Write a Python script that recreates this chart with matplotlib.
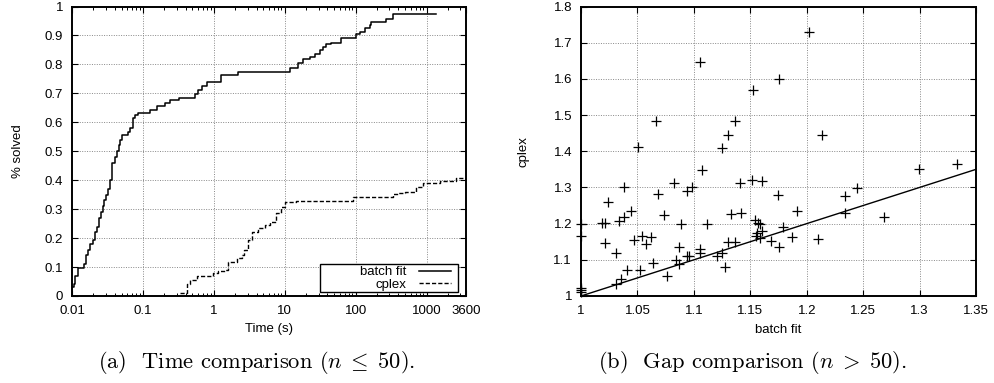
import matplotlib
matplotlib.use("Agg")
import matplotlib.pyplot as plt
from matplotlib.ticker import NullFormatter, LogLocator
from matplotlib.patches import Rectangle

plt.rcParams['font.family'] = ['Liberation Sans', 'DejaVu Sans']
plt.rcParams['mathtext.fontset'] = 'cm'

# ---- data: left panel (fraction solved vs time) ----
batch_t = [0.01, 0.0105, 0.0112, 0.0121, 0.0148, 0.0157, 0.0168, 0.0179, 0.0198, 0.0211,
           0.0225, 0.0240, 0.0256, 0.0273, 0.0287, 0.0301, 0.0321, 0.0343, 0.0362, 0.0403,
           0.0430, 0.0459, 0.0482, 0.0506, 0.0615, 0.0656, 0.0723, 0.0771, 0.0851, 0.1255,
           0.156, 0.204, 0.240, 0.321, 0.540, 0.601, 0.671, 0.789, 1.28, 2.20,
           12.0, 15.4, 18.1, 22.5, 26.5, 31.1, 34.6, 38.6, 45.5, 63.0,
           102, 114, 134, 157, 166, 270, 335, 1340]
batch_frac = [0.032, 0.04, 0.07, 0.095, 0.11, 0.14, 0.16, 0.18, 0.195, 0.22,
              0.24, 0.27, 0.29, 0.31, 0.33, 0.35, 0.37, 0.40, 0.458, 0.48,
              0.50, 0.52, 0.54, 0.556, 0.565, 0.58, 0.614, 0.625, 0.632, 0.643,
              0.656, 0.665, 0.676, 0.683, 0.697, 0.713, 0.725, 0.74, 0.763, 0.775,
              0.786, 0.806, 0.817, 0.826, 0.837, 0.85, 0.861, 0.87, 0.875, 0.89,
              0.905, 0.913, 0.925, 0.937, 0.948, 0.957, 0.974, 0.974]

cplex_t = [0.332, 0.412, 0.459, 0.570, 0.977, 1.14, 1.43, 1.59, 2.09, 2.46,
           2.65, 3.04, 3.51, 4.21, 5.23, 6.15, 7.64, 8.99, 10.0, 14.6,
           91.6, 335, 394, 490, 716, 887, 1524, 2618, 3600]
cplex_frac = [0.01, 0.04, 0.055, 0.068, 0.078, 0.085, 0.09, 0.118, 0.13, 0.14,
              0.16, 0.193, 0.222, 0.234, 0.245, 0.257, 0.286, 0.309, 0.326, 0.329,
              0.343, 0.351, 0.355, 0.358, 0.375, 0.391, 0.398, 0.406, 0.406]

time_ticks = [0.01, 0.1, 1, 10, 100, 1000, 3600]
time_tick_labels = ["0.01", "0.1", "1", "10", "100", "1000", "3600"]
frac_ticks = [0, 0.1, 0.2, 0.3, 0.4, 0.5, 0.6, 0.7, 0.8, 0.9, 1]
frac_tick_labels = ["0", "0.1", "0.2", "0.3", "0.4", "0.5", "0.6", "0.7", "0.8", "0.9", "1"]

# ---- data: right panel (gap comparison) ----
gap_batch = [1.105, 1.0662, 1.0502, 1.1365, 1.130, 1.1247, 1.1075, 1.0381, 1.0824, 1.0936,
             1.0987, 1.068, 1.1409, 1.1512, 1.160, 1.2023, 1.1527, 1.1757, 1.2135, 1.2998,
             1.3329, 1.1749, 1.2339, 1.2449, 1.0236, 1.0183, 1.0213, 1.034, 1.0381, 1.044,
             1.0738, 1.0883, 1.1114, 1.1329, 1.1415, 1.0, 1.0, 1.0, 1.0, 1.0,
             1.0213, 1.0307, 1.0472, 1.0537, 1.0573, 1.0617, 1.0641, 1.041, 1.0523, 1.0759,
             1.0352, 1.031, 1.0871, 1.0842, 1.0871, 1.0942, 1.096, 1.1054, 1.1054, 1.1202,
             1.1252, 1.1276, 1.13, 1.1365, 1.1542, 1.1571, 1.1586, 1.1557, 1.1601, 1.1586,
             1.1787, 1.1911, 1.1681, 1.1754, 1.1867, 1.2097, 1.2339, 1.2685, 1.155]
gap_cplex = [1.646, 1.484, 1.411, 1.484, 1.446, 1.41, 1.348, 1.302, 1.311, 1.29,
             1.302, 1.281, 1.313, 1.3197, 1.318, 1.730, 1.569, 1.599, 1.446, 1.350,
             1.364, 1.279, 1.277, 1.299, 1.261, 1.2026, 1.201, 1.207, 1.219, 1.235,
             1.224, 1.199, 1.199, 1.226, 1.2285, 1.2, 1.166, 1.022, 1.016, 1.011,
             1.1456, 1.118, 1.155, 1.166, 1.143, 1.162, 1.090, 1.072, 1.072, 1.056,
             1.047, 1.032, 1.1346, 1.0995, 1.088, 1.1105, 1.1105, 1.129, 1.12, 1.1105,
             1.118, 1.079, 1.148, 1.148, 1.21, 1.2026, 1.199, 1.173, 1.180, 1.159,
             1.191, 1.236, 1.153, 1.136, 1.162, 1.157, 1.2285, 1.219, 1.165]
diag = [1.0, 1.35]

gap_x_ticks = [1, 1.05, 1.1, 1.15, 1.2, 1.25, 1.3, 1.35]
gap_x_labels = ["1", "1.05", "1.1", "1.15", "1.2", "1.25", "1.3", "1.35"]
gap_y_ticks = [1, 1.1, 1.2, 1.3, 1.4, 1.5, 1.6, 1.7, 1.8]
gap_y_labels = ["1", "1.1", "1.2", "1.3", "1.4", "1.5", "1.6", "1.7", "1.8"]

caption_a = r'(a)  Time comparison ($n\;\leq\;50$).'
caption_b = r'(b)  Gap comparison ($n\;>\;50$).'

FS = 9.5
W, H = 994, 383
fig = plt.figure(figsize=(W / 100, H / 100), dpi=100)

ax1 = fig.add_axes([72 / W, (H - 296) / H, 394 / W, 289.5 / H])
ax2 = fig.add_axes([581 / W, (H - 296) / H, 395 / W, 289.5 / H])

grid_kw = dict(color='#888888', linestyle=(0, (1, 1.5)), linewidth=0.7)

# left panel
ax1.step(batch_t, batch_frac, where='post', color='black', linewidth=1.1, label='batch fit')
ax1.step(cplex_t, cplex_frac, where='post', color='black', linewidth=1.0,
         linestyle=(0, (3, 1.5)), label='cplex')
ax1.set_xscale('log')
ax1.set_xlim(0.01, 3600)
ax1.set_ylim(0, 1)
ax1.set_xticks(time_ticks)
ax1.set_xticklabels(time_tick_labels)
ax1.xaxis.set_minor_locator(LogLocator(base=10, subs=range(2, 10), numticks=20))
ax1.xaxis.set_minor_formatter(NullFormatter())
ax1.set_yticks(frac_ticks)
ax1.set_yticklabels(frac_tick_labels)
ax1.set_xlabel('Time (s)', fontsize=FS)
ax1.set_ylabel('% solved', fontsize=FS)
ax1.xaxis.set_label_coords((269 - 72) / 394, (296 - 329) / 289.5)
ax1.xaxis.label.set_va('center')
ax1.yaxis.set_label_coords((18 - 72) / 394, 0.5)
ax1.yaxis.label.set_va('center')
for xv in time_ticks[1:-1]:
    ax1.axvline(xv, zorder=0, **grid_kw)
for yv in frac_ticks[1:-1]:
    ax1.axhline(yv, zorder=0, **grid_kw)

# legend (gnuplot-style wide box)
ax1.add_patch(Rectangle(((320 - 72) / 394, (296 - 292) / 289.5),
                        (458 - 320) / 394, (292 - 264) / 289.5,
                        transform=ax1.transAxes, facecolor='white', edgecolor='black',
                        linewidth=1.0, zorder=4.5, clip_on=False))
leg = ax1.legend(loc='center right', bbox_to_anchor=((451 - 72) / 394, (296 - 278.5) / 289.5),
                 borderaxespad=0, frameon=False, fontsize=FS,
                 markerfirst=False, handlelength=2.4, handletextpad=1.0,
                 borderpad=0, labelspacing=0.05)
leg.set_zorder(5)

# right panel
ax2.plot(diag, diag, color='black', linewidth=1.0)
ax2.plot(gap_batch, gap_cplex, linestyle='none', marker='+', markersize=7,
         markeredgewidth=0.9, color='black', clip_on=False)
ax2.set_xlim(1, 1.35)
ax2.set_ylim(1, 1.8)
ax2.set_xticks(gap_x_ticks)
ax2.set_xticklabels(gap_x_labels)
ax2.set_yticks(gap_y_ticks)
ax2.set_yticklabels(gap_y_labels)
ax2.set_xlabel('batch fit', fontsize=FS)
ax2.set_ylabel('cplex', fontsize=FS)
ax2.xaxis.set_label_coords((778 - 581) / 395, (296 - 330) / 289.5)
ax2.xaxis.label.set_va('center')
ax2.yaxis.set_label_coords((524 - 581) / 395, 0.5)
ax2.yaxis.label.set_va('center')
for xv in gap_x_ticks[1:-1]:
    ax2.axvline(xv, zorder=0, **grid_kw)
for yv in gap_y_ticks[1:-1]:
    ax2.axhline(yv, zorder=0, **grid_kw)

for ax in (ax1, ax2):
    for s in ax.spines.values():
        s.set_linewidth(1.4)
        s.set_zorder(6)
    ax.tick_params(which='major', direction='in', top=True, right=True, length=4,
                   width=0.8, labelsize=FS, pad=6.5)
    ax.tick_params(which='minor', direction='in', top=True, right=True, length=2.5,
                   width=0.7)

# captions: size fitted so caption (b) spans the same width as in the reference
cap_kw = dict(ha='center', va='center', family='cmr10')
tb = fig.text(752 / W, 1 - 363 / H, caption_b, fontsize=14, **cap_kw)
fig.canvas.draw()
renderer = fig.canvas.get_renderer()
wb = tb.get_window_extent(renderer).width
cap_fs = 14 * 309 / wb
tb.set_fontsize(cap_fs)
fig.text(257 / W, 1 - 363 / H, caption_a, fontsize=cap_fs, **cap_kw)

fig.savefig('out.png', dpi=100)
